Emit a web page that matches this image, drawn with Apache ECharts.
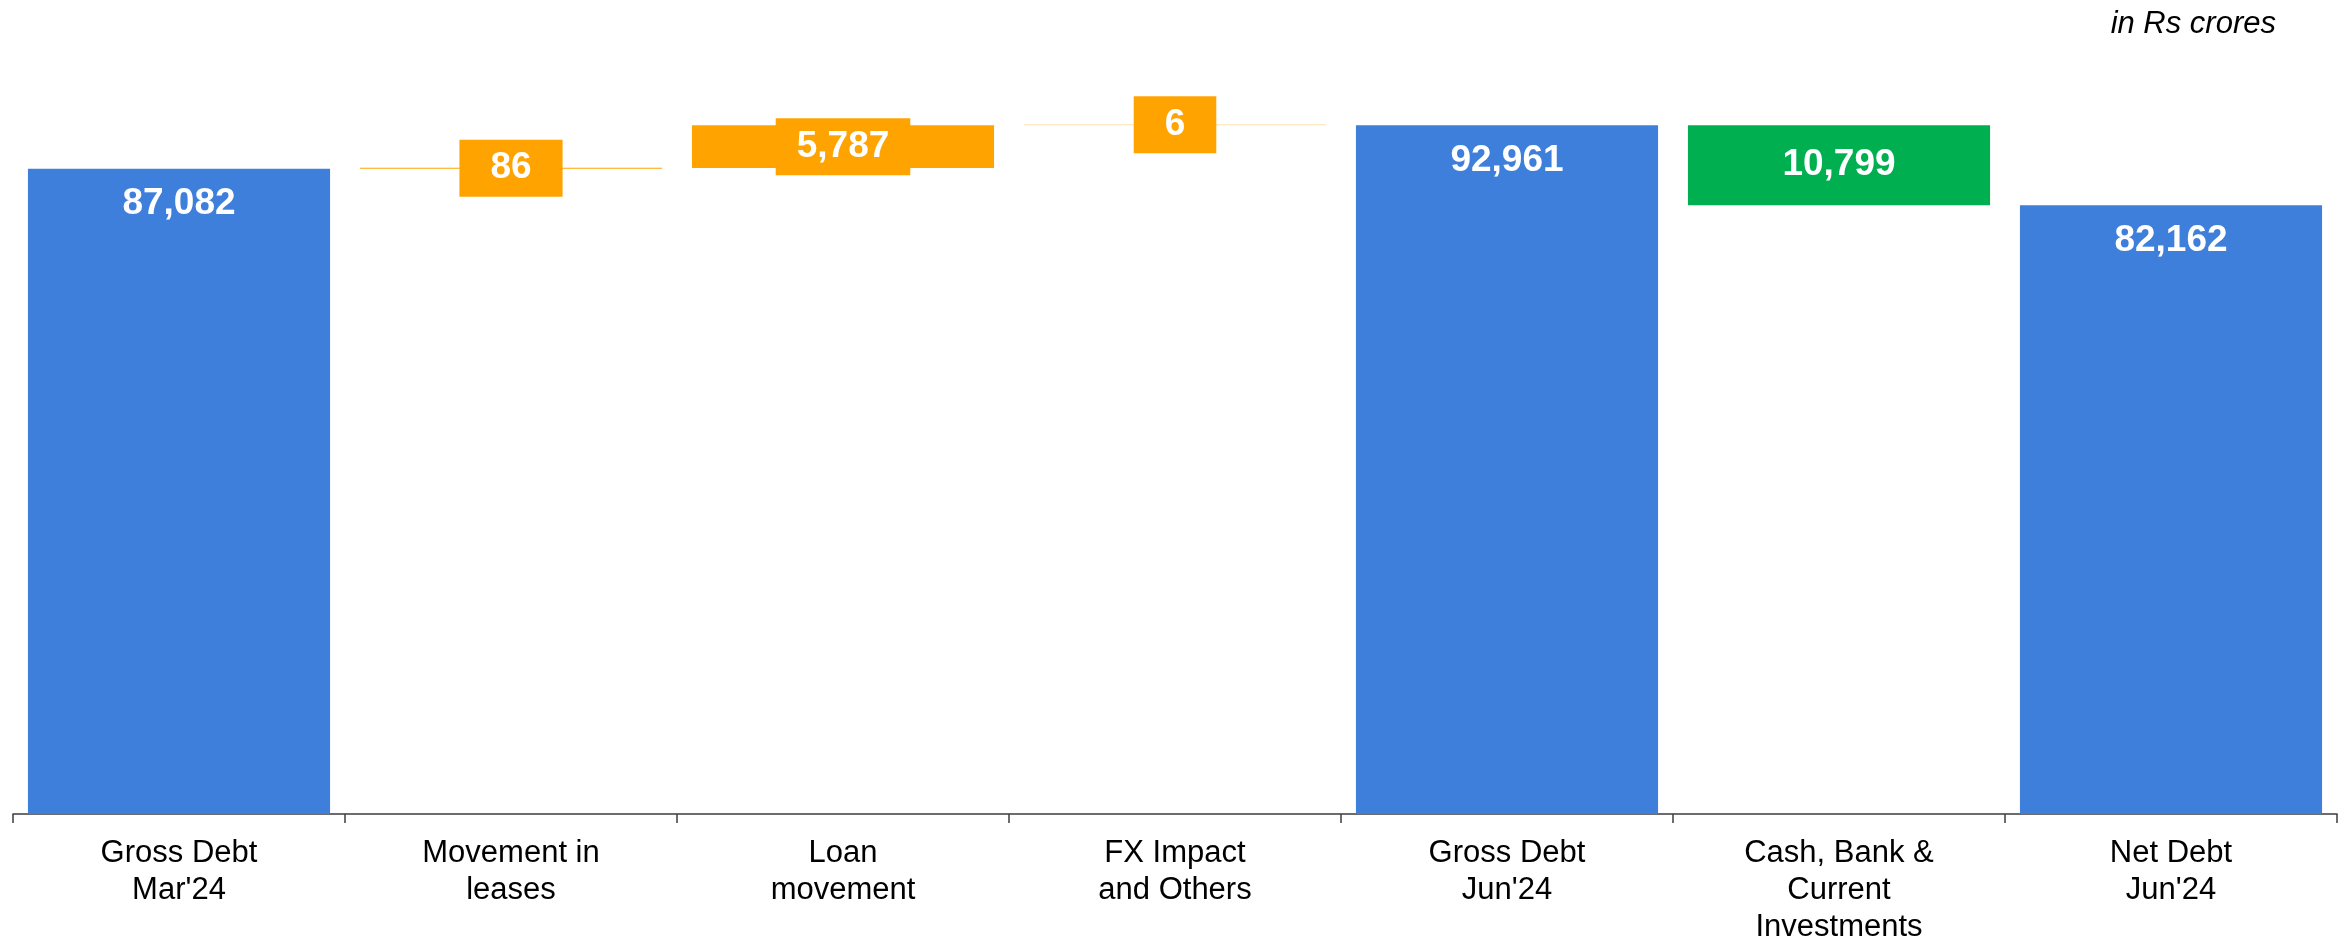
<!DOCTYPE html>
<html>
<head>
<meta charset="utf-8">
<title>Debt bridge</title>
<script src="https://cdn.jsdelivr.net/npm/echarts@6/dist/echarts.min.js"></script>
<style>
  html, body { margin: 0; padding: 0; background: #ffffff; }
  #chart { width: 2343px; height: 946px; }
</style>
</head>
<body>
<div id="chart"></div>
<script>
// Bridge from gross debt to net debt (Rs crores)
const categories = [
  "Gross Debt\nMar'24",
  "Movement in\nleases",
  "Loan\nmovement",
  "FX Impact\nand Others",
  "Gross Debt\nJun'24",
  "Cash, Bank &\nCurrent\nInvestments",
  "Net Debt\nJun'24"
];
const amounts = [87082, 86, 5787, 6, 92961, 10799, 82162];
const steps = ['total', 'increase', 'increase', 'increase', 'total', 'decrease', 'total'];
const unitNote = 'in Rs crores';

const COLORS = { total: '#3E7FDB', increase: '#FFA300', decrease: '#00B050' };
const FONT = "'Liberation Sans', Arial, Helvetica, sans-serif";

// Invisible base under each floating step
const bases = [];
let running = 0;
amounts.forEach((v, i) => {
  if (steps[i] === 'total') { bases.push(0); running = v; }
  else if (steps[i] === 'increase') { bases.push(running); running += v; }
  else { running -= v; bases.push(running); }
});

const fmt = v => v.toLocaleString('en-US');

const valueData = amounts.map((v, i) => {
  const kind = steps[i];
  const item = { value: v, itemStyle: { color: COLORS[kind] } };
  if (kind === 'total') {
    item.label = { position: 'insideTop', distance: 17 };
  } else if (kind === 'decrease') {
    item.label = { position: 'inside' };
  } else {
    // small steps: label sits in its own box over the bar
    const padX = v >= 1000 ? 21 : 31;
    item.label = {
      position: 'inside',
      backgroundColor: COLORS.increase,
      padding: [10, padX, 10, padX],
      lineHeight: 37
    };
    if (v < 50) item.itemStyle = { color: '#FFE2B0' };
  }
  return item;
});

const chart = echarts.init(document.getElementById('chart'), null, { renderer: 'canvas' });
chart.setOption({
  animation: false,
  backgroundColor: '#ffffff',
  grid: { left: 13, right: 6, top: 73, bottom: 129, containLabel: false },
  xAxis: {
    type: 'category',
    data: categories,
    axisLine: { show: true, lineStyle: { color: '#3c3c3c', width: 1.5 } },
    axisTick: { show: true, interval: 0, length: 9, alignWithLabel: false, lineStyle: { color: '#3c3c3c', width: 1.5 } },
    axisLabel: {
      interval: 0,
      margin: 21,
      color: '#000000',
      fontFamily: FONT,
      fontSize: 31,
      lineHeight: 37
    },
    splitLine: { show: false }
  },
  yAxis: {
    type: 'value',
    min: 0,
    max: 100000,
    show: false,
    splitLine: { show: false }
  },
  series: [
    {
      name: 'base',
      type: 'bar',
      stack: 'bridge',
      barWidth: '91%',
      silent: true,
      itemStyle: { color: 'rgba(0,0,0,0)' },
      data: bases
    },
    {
      name: 'amount',
      type: 'bar',
      stack: 'bridge',
      barWidth: '91%',
      barMinHeight: 1,
      data: valueData,
      label: {
        show: true,
        color: '#ffffff',
        fontFamily: FONT,
        fontWeight: 'bold',
        fontSize: 37,
        formatter: p => fmt(p.value)
      }
    }
  ],
  graphic: [
    {
      type: 'text',
      right: 67,
      top: 9,
      style: {
        text: unitNote,
        fill: '#000000',
        font: "italic 31px " + FONT
      }
    }
  ]
});
</script>
</body>
</html>
